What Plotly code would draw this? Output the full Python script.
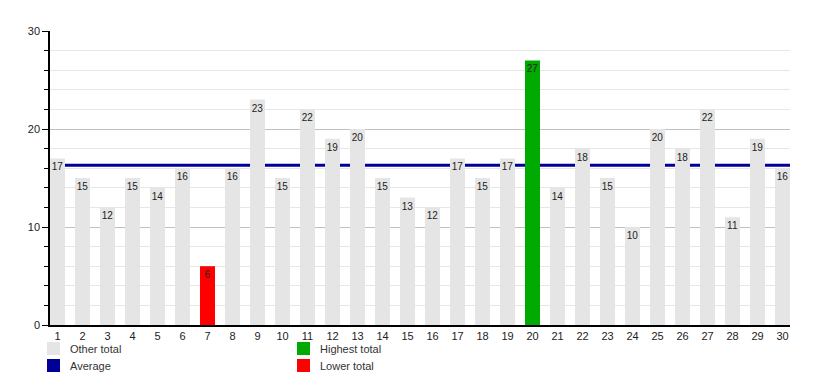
import plotly.graph_objects as go

days = list(range(1, 31))
totals = [17, 15, 12, 15, 14, 16, 6, 16, 23, 15, 22, 19, 20, 15, 13,
          12, 17, 15, 17, 27, 14, 18, 15, 10, 20, 18, 22, 11, 19, 16]
legend_labels = ["Other total", "Highest total", "Average", "Lower total"]

GRAY = "#e5e5e5"
GREEN = "#00aa00"
RED = "#ff0000"
NAVY = "#000099"

avg = sum(totals) / len(totals)
mx, mn = max(totals), min(totals)
colors = [GREEN if v == mx else RED if v == mn else GRAY for v in totals]

FONT = "Liberation Sans, Arial, sans-serif"

fig = go.Figure()
fig.add_trace(go.Bar(
    x=days, y=totals, width=0.6,
    marker=dict(color=colors, line=dict(width=0)),
    text=[str(v) for v in totals],
    textposition="inside", insidetextanchor="end", textangle=0,
    constraintext="none",
    insidetextfont=dict(size=10, color="#222", family=FONT),
    showlegend=False, hoverinfo="x+y",
))

# average line, drawn between gridlines and bars
fig.add_shape(type="line", xref="paper", x0=0, x1=1, yref="y", y0=avg, y1=avg,
              line=dict(color=NAVY, width=3), layer="between")

# legend (manual, two columns)
W, H = 818, 375
L, R, T, B = 50, 28, 31, 50
pw, ph = W - L - R, H - T - B
def px(x): return (x - L) / pw
def py(y): return (H - B - y) / ph

legend_pos = [(47, 342), (297, 342), (47, 359), (297, 359)]
legend_cols = [GRAY, GREEN, NAVY, RED]
for (lx, ly), c, lab in zip(legend_pos, legend_cols, legend_labels):
    fig.add_shape(type="rect", xref="paper", yref="paper",
                  x0=px(lx), x1=px(lx + 13), y0=py(ly), y1=py(ly + 13),
                  fillcolor=c, line=dict(width=0))
    fig.add_annotation(xref="paper", yref="paper", x=px(lx + 21), y=py(ly + 7),
                       text=lab, showarrow=False, xanchor="left", yanchor="middle",
                       font=dict(size=11, color="#333", family=FONT))

fig.update_layout(
    width=W, height=H,
    margin=dict(l=L, r=R, t=T, b=B),
    paper_bgcolor="white", plot_bgcolor="white",
    font=dict(family=FONT, size=11, color="#333"),
    bargap=0.4,
    xaxis=dict(range=[0.7, 30.3], tickmode="array", tickvals=days,
               ticktext=[str(d) for d in days], showgrid=False, zeroline=False,
               showline=True, linecolor="black", linewidth=1.5, ticks="",
               tickfont=dict(size=11, color="#222")),
    yaxis=dict(range=[0, 30], dtick=10, showgrid=True, gridcolor="#c0c0c0",
               gridwidth=1, zeroline=False, showline=True, linecolor="black",
               linewidth=1.5, ticks="outside", ticklen=6, tickcolor="black",
               tickfont=dict(size=11, color="#222"),
               minor=dict(dtick=2, showgrid=True, gridcolor="#e6e6e6",
                          ticks="outside", ticklen=4, tickcolor="black")),
)

fig.write_html("out.html", config={"displayModeBar": False},
               post_script="document.body.style.margin='0px';")
